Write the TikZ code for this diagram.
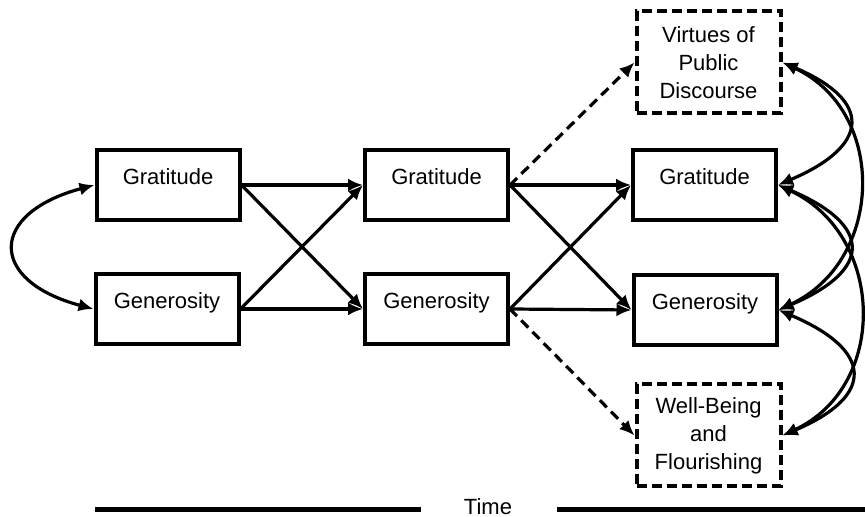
\documentclass[tikz,border=0pt]{standalone}
\usepackage{fontspec}
\setmainfont{Liberation Sans}
\usetikzlibrary{arrows.meta}

\begin{document}
\begin{tikzpicture}[x=0.5pt, y=0.5pt,
    var/.style={draw, line width=2pt, minimum width=71.5pt, minimum height=35pt,
      inner sep=0pt, text height=6pt, text depth=6pt},
    outcomebox/.style={draw, line width=2pt, dash pattern=on 5pt off 2.5pt,
      minimum width=72pt, minimum height=51pt, inner sep=0pt, align=center},
    effect/.style={line width=1.6pt, -{Latex[length=7.5pt,width=6.5pt]}},
    outcome/.style={effect, dash pattern=on 5pt off 3pt},
    corr/.style={line width=1.6pt, {Latex[length=7.5pt,width=6.5pt]}-{Latex[length=7.5pt,width=6.5pt]}}]
  \useasboundingbox (0,0) rectangle (865,517);
  \fontsize{11}{14}\selectfont
  % three waves
  \node[var] (grat1) at (168,332) {Gratitude};
  \node[var] (gen1) at (167,208) {Generosity};
  \node[var] (grat2) at (436.5,332) {Gratitude};
  \node[var] (gen2) at (436.5,208) {Generosity};
  \node[var] (grat3) at (704.5,332) {Gratitude};
  \node[var] (gen3) at (705,207) {Generosity};
  % outcomes
  \node[outcomebox] (virt) at (708.5,454.5) {Virtues of\\Public\\Discourse};
  \node[outcomebox] (well) at (708.5,81.5) {Well-Being\\and\\Flourishing};
  % cross-lagged paths
  \draw[effect] (grat1.east) -- (grat2.west);
  \draw[effect] (grat1.east) -- (gen2.west);
  \draw[effect] (gen1.east) -- (grat2.west);
  \draw[effect] (gen1.east) -- (gen2.west);
  \draw[effect] (grat2.east) -- (grat3.west);
  \draw[effect] (grat2.east) -- (gen3.west);
  \draw[effect] (gen2.east) -- (grat3.west);
  \draw[effect] (gen2.east) -- (gen3.west);
  \draw[outcome] (grat2.east) -- (virt.west);
  \draw[outcome] (gen2.east) -- (well.west);
  % covariances
  \draw[corr] (grat1.west) to[out=195, in=165, looseness=2.26] (gen1.west);
  \draw[corr] (virt.east) to[out=-23, in=23, looseness=2.07] (grat3.east);
  \draw[corr] (virt.east) to[out=-25, in=25, looseness=1.2] (gen3.east);
  \draw[corr] (grat3.east) to[out=-23, in=23, looseness=2.1] (gen3.east);
  \draw[corr] (grat3.east) to[out=-25, in=25, looseness=1.2] (well.east);
  \draw[corr] (gen3.east) to[out=-23, in=23, looseness=2.08] (well.east);
  % time axis
  \node (time) at (488,10) {Time};
  \coordinate (tl) at (95,7);
  \coordinate (tr) at (865,7);
  \draw[line width=2.5pt] (tl) -- (tl -| 421,0);
  \draw[line width=2.5pt] (tr -| 557,0) -- (tr);
\end{tikzpicture}
\end{document}
